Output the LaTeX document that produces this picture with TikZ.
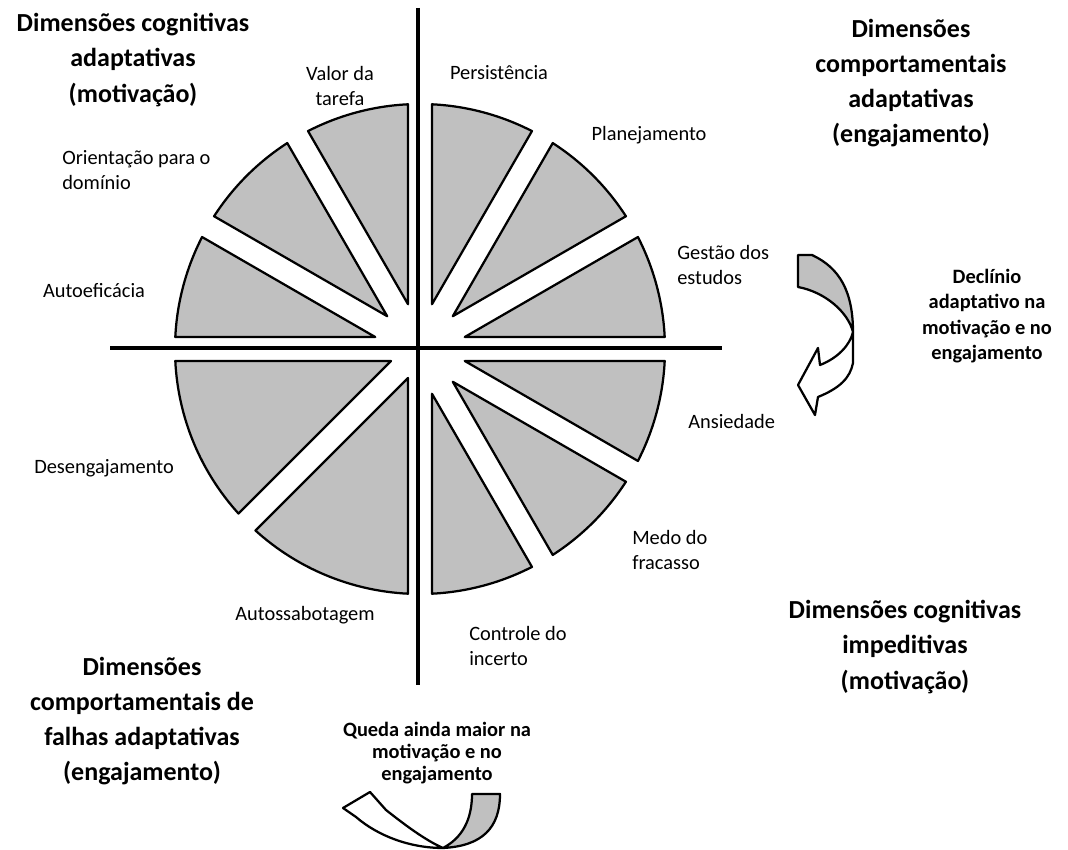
\documentclass[tikz,border=0pt]{standalone}
\usepackage{fontspec}
\setmainfont{Carlito}
\usepackage{tikz}
\usetikzlibrary{positioning}
\definecolor{sectorgray}{RGB}{192,192,192}

\begin{document}
\begin{tikzpicture}[x=0.025cm,y=0.025cm,
  sector/.style={draw=black, line width=1.6pt, fill=sectorgray, line join=round},
  axisline/.style={line width=2.2pt},
  ribbon/.style={draw=black, line width=1.6pt, line join=round},
  lbl/.style={font=\fontsize{14.5}{18}\selectfont, align=left, inner sep=0pt},
  heading/.style={font=\fontsize{18.5}{25}\selectfont\bfseries, align=center, inner sep=0pt},
  note/.style={font=\fontsize{14.5}{18}\selectfont\bfseries, align=center, inner sep=0pt}]
  \useasboundingbox (0,0) rectangle (1068,850);
  % Wheel
  \coordinate (O) at (420,501);
  \def\R{245}
  \def\gap{12}
  \foreach \a/\b in {0/30,30/60,60/90,90/120,120/150,150/180,180/225,225/270,270/300,300/330,330/360}{
    \pgfmathsetmacro\bis{(\a+\b)/2}
    \pgfmathsetmacro\apex{\gap/sin((\b-\a)/2)}
    \pgfmathsetmacro\off{asin(\gap/\R)}
    \draw[sector,shift={(O)}] (\bis:\apex) -- ({\a+\off}:\R)
      arc[start angle={\a+\off}, end angle={\b-\off}, radius=\R] -- cycle;
  }
  % Axes
  \coordinate (axN) at (418,842);
  \coordinate (axS) at (418,165);
  \coordinate (axW) at (110,502);
  \coordinate (axE) at (722,502);
  \draw[axisline] (axN) -- (axS);
  \draw[axisline] (axW) -- (axE);
  % Sector labels
  \node[lbl, align=center] (valor) at (340,764) {Valor da\\tarefa};
  \node[lbl] (persist) at (499,777) {Persistência};
  \node[lbl] (planej) at (649,715) {Planejamento};
  \node[lbl, anchor=west] (gestao) at (677,585) {Gestão dos\\estudos};
  \node[lbl, anchor=west] (orient) at (62,680) {Orientação para o\\domínio};
  \node[lbl] (autoef) at (94,559) {Autoeficácia};
  \node[lbl] (deseng) at (104,382) {Desengajamento};
  \node[lbl] (autossab) at (305,235) {Autossabotagem};
  \node[lbl, anchor=west] (controle) at (469,204) {Controle do\\incerto};
  \node[lbl, anchor=west] (medo) at (632,300) {Medo do\\fracasso};
  \node[lbl, anchor=west] (ansied) at (688,429) {Ansiedade};
  % Quadrant titles
  \node[heading] (cogadapt) at (133,790) {Dimensões cognitivas\\adaptativas\\(motivação)};
  \node[heading] (compadapt) at (911,767) {Dimensões\\comportamentais\\adaptativas\\(engajamento)};
  \node[heading] (cogimped) at (905,203) {Dimensões cognitivas\\impeditivas\\(motivação)};
  \node[heading] (compfalha) at (142,129) {Dimensões\\comportamentais de\\falhas adaptativas\\(engajamento)};
  % Notes next to the arrows
  \node[note] (declinio) at (987,534) {Declínio\\adaptativo na\\motivação e no\\engajamento};
  \node[note, font=\fontsize{14.5}{15.5}\selectfont\bfseries] (queda) at (437,97) {Queda ainda maior na\\motivação e no\\engajamento};
  % Right arrow
  \draw[ribbon, fill=sectorgray] (798,595) -- (812,595) .. controls (840,582) and (853,558) .. (853,518)
    .. controls (848,538) and (825,558) .. (798,563) -- cycle;
  \draw[ribbon, fill=white] (853,518) -- (853,487) .. controls (850,472) and (840,462) .. (818,453)
    -- (815,435) -- (798,465) -- (818,502) -- (820,485) .. controls (838,492) and (850,505) .. cycle;
  % Bottom arrow
  \draw[ribbon, fill=sectorgray] (472,56) -- (500,56) .. controls (500,22) and (482,4) .. (443,2)
    .. controls (462,12) and (472,30) .. cycle;
  \draw[ribbon, fill=white] (443,2) .. controls (410,2) and (378,14) .. (356,33) -- (343,42)
    -- (370,58) -- (386,40) .. controls (405,25) and (425,10) .. cycle;
\end{tikzpicture}
\end{document}
